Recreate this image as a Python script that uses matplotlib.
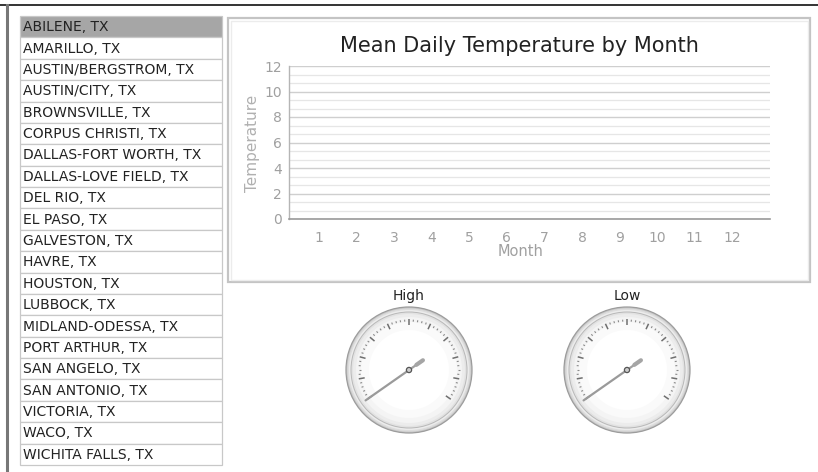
import numpy as np
import matplotlib
matplotlib.use("Agg")
import matplotlib.pyplot as plt
from matplotlib.patches import Rectangle, Circle

# ---------------- data ----------------
stations = ["ABILENE, TX", "AMARILLO, TX", "AUSTIN/BERGSTROM, TX", "AUSTIN/CITY, TX",
            "BROWNSVILLE, TX", "CORPUS CHRISTI, TX", "DALLAS-FORT WORTH, TX",
            "DALLAS-LOVE FIELD, TX", "DEL RIO, TX", "EL PASO, TX", "GALVESTON, TX",
            "HAVRE, TX", "HOUSTON, TX", "LUBBOCK, TX", "MIDLAND-ODESSA, TX",
            "PORT ARTHUR, TX", "SAN ANGELO, TX", "SAN ANTONIO, TX", "VICTORIA, TX",
            "WACO, TX", "WICHITA FALLS, TX"]
selected_station = 0
months = [1, 2, 3, 4, 5, 6, 7, 8, 9, 10, 11, 12]
y_ticks = [0, 2, 4, 6, 8, 10, 12]
gauge_labels = ["High", "Low"]
gauge_values = [0, 0]
gauge_min, gauge_max = 0, 100

W, H = 818, 472
DPI = 100
fig = plt.figure(figsize=(W / DPI, H / DPI), dpi=DPI)
fig.patch.set_facecolor("white")

def px(x, y):
    return x / W, 1 - y / H

# background overlay axes in pixel coordinates
bg = fig.add_axes([0, 0, 1, 1], zorder=0)
bg.set_xlim(0, W)
bg.set_ylim(H, 0)
bg.axis("off")

# outer frame lines
bg.plot([0, W], [5, 5], color="#111111", lw=1.2)
bg.plot([7, 7], [5, H], color="#777777", lw=2.2)

# station list
lx0, lx1, ly0, ly1 = 20, 222, 16, 465
rh = (ly1 - ly0) / len(stations)
for i, name in enumerate(stations):
    top = ly0 + i * rh
    fc = "#a6a6a6" if i == selected_station else "white"
    bg.add_patch(Rectangle((lx0, top), lx1 - lx0, rh, facecolor=fc,
                           edgecolor="#c8c8c8", lw=0.9))
    t = bg.text(lx0 + 3, top + rh / 2 + 0.5, name, fontsize=10, color="#222222",
                va="center", ha="left", family="DejaVu Sans")
    t.set_clip_path(Rectangle((lx0, top), lx1 - lx0, rh, transform=bg.transData))

# chart panel
bg.add_patch(Rectangle((228, 18), 582, 264, facecolor="white",
                       edgecolor="#c4c4c4", lw=1.6))
bg.add_patch(Rectangle((230.5, 20.5), 577, 259, facecolor="none",
                       edgecolor="#ececec", lw=1.0))

# ---------------- line chart (empty) ----------------
ax_l, ax_r, ax_t, ax_b = 289, 770, 66, 219
ax = fig.add_axes([ax_l / W, 1 - ax_b / H, (ax_r - ax_l) / W, (ax_b - ax_t) / H], zorder=2)
ax.set_facecolor("none")
ax.set_xlim(0.21, 13.0)
ax.set_ylim(0, 12)
ax.set_xticks(months)
ax.set_yticks(y_ticks)
ax.set_yticks(np.arange(0, 12.01, 2 / 3), minor=True)
ax.grid(True, which="major", axis="y", color="#cfcfcf", lw=1.0)
ax.grid(True, which="minor", axis="y", color="#e6e6e6", lw=0.9)
ax.tick_params(axis="both", which="both", length=0, labelsize=10, labelcolor="#a0a0a0")
ax.tick_params(axis="x", pad=9)
ax.tick_params(axis="y", pad=5)
for s in ["top", "right"]:
    ax.spines[s].set_visible(False)
ax.spines["left"].set_color("#b5b5b5")
ax.spines["bottom"].set_color("#9a9a9a")
ax.spines["left"].set_linewidth(1.0)
ax.spines["bottom"].set_linewidth(1.2)
ax.set_axisbelow(True)

fig.text(*px(519, 46), "Mean Daily Temperature by Month", fontsize=15,
         color="#222222", ha="center", va="center")
fig.text(*px(521, 252), "Month", fontsize=10.5, color="#a0a0a0", ha="center", va="center")
fig.text(*px(253, 143), "Temperature", fontsize=11, color="#b0b0b0", ha="center",
         va="center", rotation=90)

# ---------------- gauges ----------------
gauge_centers = [(409, 370), (627, 370)]
R = 63
a_start, a_end = 215.0, -35.0

def val_to_angle(v):
    return np.deg2rad(a_start + (v - gauge_min) / (gauge_max - gauge_min) * (a_end - a_start))

for (cx, cy), label, value in zip(gauge_centers, gauge_labels, gauge_values):
    size = 150
    g = fig.add_axes([(cx - size / 2) / W, 1 - (cy + size / 2) / H, size / W, size / H], zorder=3)
    g.set_xlim(-size / 2, size / 2)
    g.set_ylim(-size / 2, size / 2)
    g.set_aspect("equal")
    g.axis("off")
    # rim
    g.add_patch(Circle((0, 0), R, facecolor="#c9c9c9", edgecolor="#9c9c9c", lw=0.9))
    for r, c in [(61.5, "#dcdcdc"), (60, "#ececec"), (58.5, "#b9b9b9")]:
        g.add_patch(Circle((0, 0), r, facecolor=c, edgecolor="none"))
    # face with soft shading
    for r, c in [(57.5, "#e2e2e2"), (56, "#ececec"), (53, "#f4f4f4"), (48, "#fafafa"), (40, "white")]:
        g.add_patch(Circle((0, 0), r, facecolor=c, edgecolor="none"))
    # ticks
    n_major = 11
    maj = np.linspace(a_start, a_end, n_major)
    for a in np.deg2rad(maj):
        g.plot([45 * np.cos(a), 51 * np.cos(a)], [45 * np.sin(a), 51 * np.sin(a)],
               color="#6f6f6f", lw=1.1, solid_capstyle="butt")
    minor = np.linspace(a_start, a_end, (n_major - 1) * 5 + 1)
    for k, a in enumerate(np.deg2rad(minor)):
        if k % 5 == 0:
            continue
        g.plot([48.5 * np.cos(a), 50.5 * np.cos(a)], [48.5 * np.sin(a), 50.5 * np.sin(a)],
               color="#8a8a8a", lw=0.8, solid_capstyle="butt")
    # needle
    ang = val_to_angle(value)
    g.plot([0, 53 * np.cos(ang)], [0, 53 * np.sin(ang)], color="#9a9a9a", lw=1.6,
           solid_capstyle="round")
    g.plot([0, 17 * np.cos(ang + np.pi)], [0, 17 * np.sin(ang + np.pi)], color="#a0a0a0",
           lw=1.6, solid_capstyle="round")
    g.plot([9 * np.cos(ang + np.pi), 17 * np.cos(ang + np.pi)],
           [9 * np.sin(ang + np.pi), 17 * np.sin(ang + np.pi)], color="#a5a5a5",
           lw=3.0, solid_capstyle="round")
    g.add_patch(Circle((0, 0), 2.6, facecolor="#cccccc", edgecolor="#555555", lw=0.9, zorder=5))
    fig.text(*px(cx, 296), label, fontsize=10, color="#222222", ha="center", va="center")

fig.savefig("out.png", dpi=DPI, facecolor="white")
